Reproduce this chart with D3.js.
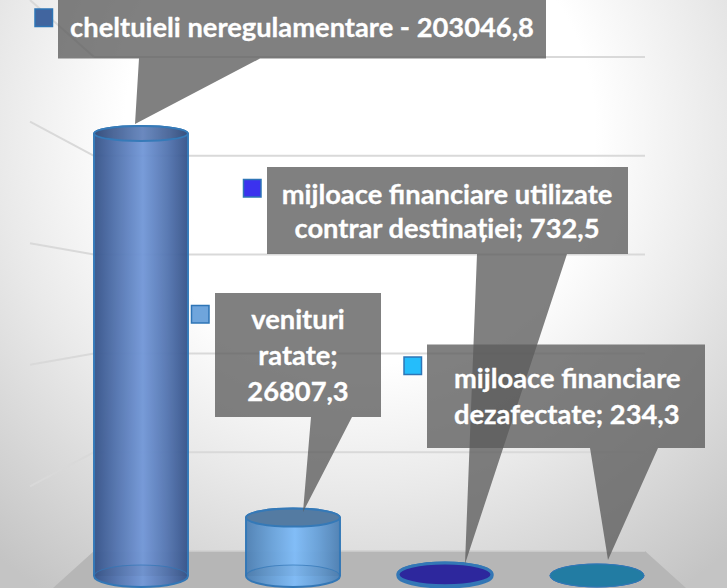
<!DOCTYPE html>
<html>
<head>
<meta charset="utf-8">
<script src="https://cdn.jsdelivr.net/npm/d3@7"></script>
<style>
    html, body { margin: 0; padding: 0; background: #fff; overflow: hidden; }
    svg { display: block; }
    .callout-text { font-family: Lato, "Open Sans", sans-serif; font-weight: 700; font-size: 27.3px; fill: #fff; stroke: #fff; stroke-width: 0.3px; }
</style>
</head>
<body>
<div id="chart"></div>
<script>
// Values
const categories = [
    "cheltuieli neregulamentare",
    "venituri ratate",
    "mijloace financiare utilizate contrar destinației",
    "mijloace financiare dezafectate"
];
const values = [203046.8, 26807.3, 732.5, 234.3];
const gridTicks = [50000, 100000, 150000, 200000, 250000];

// Label lines of each callout
const labelLines = [
    ["cheltuieli neregulamentare - 203046,8"],
    ["venituri", "ratate;", "26807,3"],
    ["mijloace financiare utilizate", "contrar destinației; 732,5"],
    ["mijloace financiare", "dezafectate; 234,3"]
];

// Colors per bar
const barLight = ["#7398d8", "#7fbcf8", "#28229c", "#1c7aa3"];
const barDark = ["#37548a", "#4f81b4", "#28229c", "#1c7aa3"];
const markerColors = ["#41659f", "#6fa5dc", "#3b32ee", "#25bdfb"];

const width = 727;
const height = 588;

const svg = d3.select("#chart")
    .append("svg")
    .attr("width", width)
    .attr("height", height);

const defs = svg.append("defs");

// Background is a soft radial gradient
const bg = defs.append("radialGradient")
    .attr("id", "bg")
    .attr("gradientUnits", "userSpaceOnUse")
    .attr("cx", 360).attr("cy", 130).attr("r", 560);
bg.append("stop").attr("offset", "0.42").attr("stop-color", "#ffffff");
bg.append("stop").attr("offset", "0.65").attr("stop-color", "#e9e9e9");
bg.append("stop").attr("offset", "1").attr("stop-color", "#c4c4c4");

svg.append("rect")
    .attr("width", width)
    .attr("height", height)
    .attr("fill", "url(#bg)");

// Scales. The 3D look needs one y scale per plane
const x = d3.scaleBand()
    .domain(categories)
    .range([65, 673])
    .paddingInner(0.382)
    .paddingOuter(0.191);

const yFront = d3.scaleLinear().domain([0, 203046.8]).range([576, 133.5]);
const yWall = d3.scaleLinear().domain([0, 250000]).range([551, 57]);
const ySide = d3.scaleLinear().domain([0, 250000]).range([608, 0]);
const topRy = d3.scaleLinear().domain([0, 26807.3, 203046.8]).range([11.5, 9, 7.5]);

const wallLeft = 94;
const wallRight = 645;

// Floor
svg.append("path")
    .attr("d", d3.line()([[wallLeft, yWall(0)], [wallRight, yWall(0)], [686, height], [53, height]]))
    .attr("fill", "#b6b6b6");
svg.append("line")
    .attr("x1", wallLeft).attr("x2", wallRight)
    .attr("y1", yWall(0)).attr("y2", yWall(0))
    .attr("stroke", "#cfcfcf")
    .attr("stroke-width", 1.5);

// Grid lines, back wall and side wall
const grid = svg.append("g")
    .attr("stroke", "#d9d9d9")
    .attr("stroke-width", 2)
    .attr("fill", "none");
grid.selectAll("line.back")
    .data(gridTicks)
    .enter()
    .append("line")
    .attr("class", "back")
    .attr("x1", wallLeft).attr("x2", wallRight)
    .attr("y1", d => yWall(d)).attr("y2", d => yWall(d));
grid.selectAll("line.side")
    .data(gridTicks)
    .enter()
    .append("line")
    .attr("class", "side")
    .attr("x1", 30).attr("x2", wallLeft)
    .attr("y1", d => ySide(d)).attr("y2", d => yWall(d));

// Gradients for the cylinder sides
categories.forEach((c, i) => {
    const g = defs.append("linearGradient").attr("id", "bar" + i);
    g.append("stop").attr("offset", "0").attr("stop-color", barDark[i]);
    g.append("stop").attr("offset", "0.25").attr("stop-color", d3.interpolateRgb(barDark[i], barLight[i])(0.5));
    g.append("stop").attr("offset", "0.52").attr("stop-color", barLight[i]);
    g.append("stop").attr("offset", "0.78").attr("stop-color", d3.interpolateRgb(barDark[i], barLight[i])(0.5));
    g.append("stop").attr("offset", "1").attr("stop-color", barDark[i]);
});

// Cylinders
const bars = svg.selectAll("g.bar")
    .data(values)
    .enter()
    .append("g")
    .attr("class", "bar")
    .attr("opacity", 0.96);

const rx = x.bandwidth() / 2;
const cx = (d, i) => x(categories[i]) + rx;
const edgeWidth = [2, 2, 3, 1];

bars.append("path")
    .attr("d", (d, i) => {
        const c = cx(d, i);
        const ry = topRy(d);
        return `M${c - rx},${yFront(d)} A${rx},${ry} 0 0 1 ${c + rx},${yFront(d)}`
            + ` L${c + rx},${yFront(0)} A${rx},11 0 0 1 ${c - rx},${yFront(0)} Z`;
    })
    .attr("fill", (d, i) => `url(#bar${i})`)
    .attr("stroke", "#2e75b6")
    .attr("stroke-width", (d, i) => edgeWidth[i]);

// Back half of the base shows through the side
bars.filter(d => d > 5000)
    .append("path")
    .attr("d", (d, i) => {
        const c = cx(d, i);
        return `M${c - rx},${yFront(0)} A${rx},11 0 0 1 ${c + rx},${yFront(0)}`;
    })
    .attr("fill", "#000")
    .attr("fill-opacity", 0.04)
    .attr("stroke", "#2e75b6")
    .attr("stroke-opacity", 0.7)
    .attr("stroke-width", 1.2);

// Top caps, the first keeps the side gradient under a dark wash
bars.append("ellipse")
    .attr("cx", cx)
    .attr("cy", d => yFront(d))
    .attr("rx", rx)
    .attr("ry", d => topRy(d))
    .attr("fill", (d, i) => i == 0 ? "url(#bar0)" : i == 1 ? "#4f77a0" : barLight[i])
    .attr("stroke", "#2e75b6")
    .attr("stroke-width", (d, i) => edgeWidth[i]);
bars.filter((d, i) => i == 0)
    .append("ellipse")
    .attr("cx", cx)
    .attr("cy", d => yFront(d))
    .attr("rx", rx - 1)
    .attr("ry", d => topRy(d) - 1)
    .attr("fill", "#000")
    .attr("fill-opacity", 0.12);

// Callout layout, in the same order as the categories
const callouts = [
    { box: [58, -2, 546, 58.5], tail: [139, 260], tip: [135, 124], anchor: "middle", tx: 302, lines: [37] },
    { box: [215, 293, 381, 417], tail: [311, 352], tip: [303, 512], anchor: "middle", tx: 298, lines: [329, 365, 401] },
    { box: [267, 167, 628, 254], tail: [477, 567], tip: [465, 564], anchor: "middle", tx: 447, lines: [204, 238] },
    { box: [427, 344.5, 705, 448], tail: [590, 658], tip: [608, 560], anchor: "start", tx: 454, lines: [388, 424] }
];
const markers = [[35, 9], [191.5, 305.5], [243.5, 179.5], [404, 357]];

const drawOrder = [0, 1, 2, 3];

// Box and tail are one shape so the overlap only darkens between callouts
svg.selectAll("path.callout")
    .data(drawOrder)
    .enter()
    .append("path")
    .attr("class", "callout")
    .attr("d", i => {
        const c = callouts[i];
        const [x0, y0, x1, y1] = c.box;
        return d3.line()([[x0, y0], [x1, y0], [x1, y1], [c.tail[1], y1], c.tip, [c.tail[0], y1], [x0, y1]]) + "Z";
    })
    .attr("fill", "#5c5c5c")
    .attr("fill-opacity", 0.78);

// Label text
const labels = svg.selectAll("text.callout-text")
    .data(drawOrder)
    .enter()
    .append("text")
    .attr("class", "callout-text")
    .attr("text-anchor", i => callouts[i].anchor);

labels.selectAll("tspan")
    .data(i => labelLines[i].map((t, n) => ({ t, x: callouts[i].tx, y: callouts[i].lines[n] })))
    .enter()
    .append("tspan")
    .attr("x", d => d.x)
    .attr("y", d => d.y)
    .text(d => d.t);

// Legend keys next to the labels
svg.selectAll("rect.key")
    .data(drawOrder)
    .enter()
    .append("rect")
    .attr("class", "key")
    .attr("x", i => markers[i][0])
    .attr("y", i => markers[i][1])
    .attr("width", 17.5)
    .attr("height", 17.5)
    .attr("fill", i => markerColors[i])
    .attr("stroke", "#2e75b6")
    .attr("stroke-width", 1.5);
</script>
</body>
</html>
